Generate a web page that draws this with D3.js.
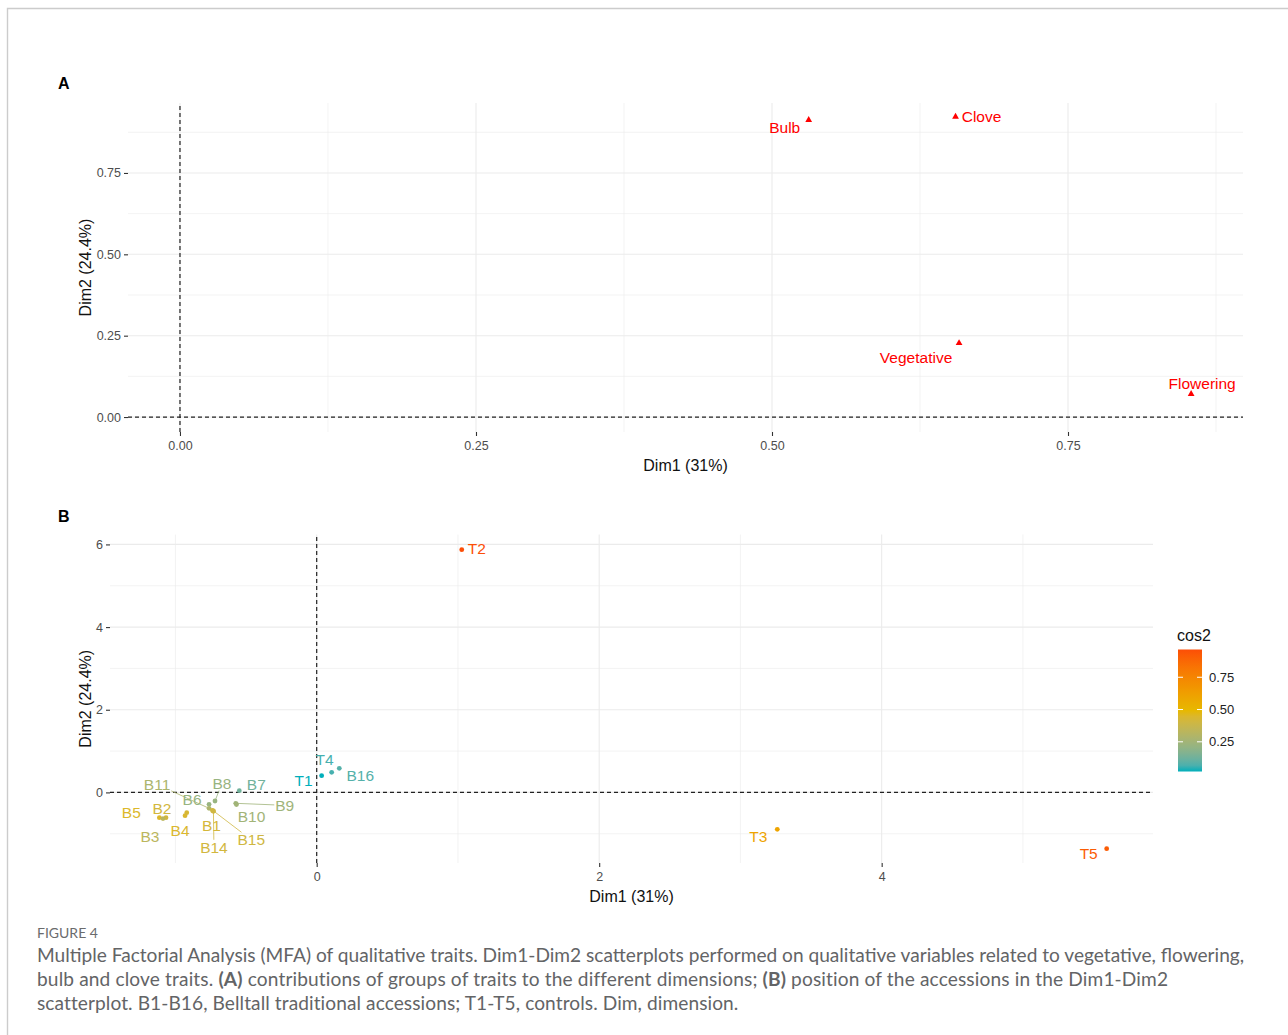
<!DOCTYPE html>
<html>
<head>
<meta charset="utf-8">
<script src="https://cdn.jsdelivr.net/npm/d3@7"></script>
<style>
  body { margin: 0; background: #fff; }
  svg { display: block; }
</style>
</head>
<body>
<svg id="fig" width="1288" height="1035"></svg>
<script>
// ---- Panel A: groups of traits (Dim1 / Dim2 coordinates) ----
const groupNames = ["Bulb", "Clove", "Vegetative", "Flowering"];
const groupDim1 = [0.531, 0.655, 0.658, 0.854];
const groupDim2 = [0.913, 0.923, 0.227, 0.071];

// ---- Panel B: accessions (Dim1 / Dim2 coordinates and cos2) ----
const accNames = ["T2", "T3", "T5", "T1", "T4", "B16", "B7", "B9", "B10", "B8",
                  "B6", "B11", "B1", "B14", "B15", "B4", "B12", "B5", "B2", "B3"];
const accDim1 = [1.027, 3.261, 5.593, 0.035, 0.106, 0.160, -0.548, -0.573, -0.568, -0.720,
                 -0.762, -0.762, -0.738, -0.731, -0.732, -0.932, -0.920, -1.114, -1.067, -1.088];
const accDim2 = [5.872, -0.893, -1.362, 0.404, 0.486, 0.583, 0.041, -0.264, -0.293, -0.208,
                 -0.288, -0.385, -0.438, -0.457, -0.445, -0.564, -0.491, -0.612, -0.612, -0.632];
const accCos2 = [0.965, 0.60, 0.92, 0.02, 0.06, 0.08, 0.13, 0.24, 0.25, 0.22,
                 0.22, 0.28, 0.42, 0.41, 0.40, 0.44, 0.43, 0.45, 0.41, 0.33];

// ---- Tick values ----
const ticksAx = [0, 0.25, 0.5, 0.75];
const ticksAy = [0, 0.25, 0.5, 0.75];
const ticksBx = [0, 2, 4];
const ticksBy = [0, 2, 4, 6];
const legendTicks = [0.25, 0.5, 0.75];
const gradientColours = ["#00AFBB", "#E7B800", "#FC4E07"];

// Label placement (pixel offsets of label centre from its point; true = leader segment)
const labelNudgeA = {
  Bulb: [-24, 8], Clove: [26, 0], Vegetative: [-43, 14], Flowering: [11, -10]
};
const labelNudgeB = {
  T2: [15, -1], T3: [-19, 7], T5: [-18, 5], T1: [-18, 5], T4: [-7, -13], B16: [21, 7],
  B7: [17, -6], B9: [49, 2, true], B10: [15, 12], B8: [7, -18, true], B6: [-17, -5],
  B11: [-52, -24, true], B1: [-1, 14.5], B14: [0.5, 36, true], B15: [38, 29, true],
  B4: [-5, 15], B5: [-28, -5], B2: [-4, -9], B3: [-13, 18]
};

const FONT = "'Liberation Sans', Arial, sans-serif";
const svg = d3.select("#fig");

// page frame
svg.append("path").attr("d", "M7.5,1035V8.5H1288")
  .attr("fill", "none").attr("stroke", "#cccccc").attr("stroke-width", 1.4);

function gridAndAxes(g, x, y, o) {
  const [x0, x1] = x.range(), [y0, y1] = y.range();
  // minor + major grid
  o.gx.forEach(v => g.append("line").attr("x1", x(v)).attr("x2", x(v)).attr("y1", y0).attr("y2", y1)
    .attr("stroke", "#ebebeb").attr("stroke-width", o.majX.includes(v) ? 1.1 : 0.6));
  o.gy.forEach(v => g.append("line").attr("y1", y(v)).attr("y2", y(v)).attr("x1", x0).attr("x2", x1)
    .attr("stroke", "#ebebeb").attr("stroke-width", o.majY.includes(v) ? 1.1 : 0.6));

  const ax = g.append("g").attr("transform", `translate(0,${y0})`)
    .call(d3.axisBottom(x).tickValues(o.majX).tickFormat(o.fmt).tickSize(4).tickPadding(5));
  const ay = g.append("g").attr("transform", `translate(${x0},0)`)
    .call(d3.axisLeft(y).tickValues(o.majY).tickFormat(o.fmt).tickSize(4).tickPadding(3));
  [ax, ay].forEach(a => {
    a.select(".domain").remove();
    a.selectAll(".tick line").attr("stroke", "#333").attr("stroke-width", 1.1);
    a.selectAll(".tick text").attr("fill", "#4d4d4d").style("font", `12.5px ${FONT}`);
  });

  // reference lines at zero
  g.append("line").attr("x1", x(0)).attr("x2", x(0)).attr("y1", y0).attr("y2", y1)
    .attr("stroke", "#222").attr("stroke-width", 1.2).attr("stroke-dasharray", "4,3");
  g.append("line").attr("y1", y(0)).attr("y2", y(0)).attr("x1", x0).attr("x2", x1)
    .attr("stroke", "#222").attr("stroke-width", 1.2).attr("stroke-dasharray", "4,3");

  g.append("text").attr("x", (x0 + x1) / 2).attr("y", o.xTitleY).attr("text-anchor", "middle")
    .attr("dominant-baseline", "central").style("font", `16px ${FONT}`).attr("fill", "#111")
    .text("Dim1 (31%)");
  g.append("text").attr("transform", `translate(85,${(y0 + y1) / 2}) rotate(-90)`)
    .attr("text-anchor", "middle").attr("dominant-baseline", "central")
    .style("font", `16px ${FONT}`).attr("fill", "#111").text("Dim2 (24.4%)");
  g.append("text").attr("x", 58).attr("y", o.tagY).attr("dominant-baseline", "central")
    .style("font", `bold 16px ${FONT}`).attr("fill", "#000").text(o.tag);
}

function placeLabel(g, px, py, name, nudge, colour, size) {
  const cx = px + nudge[0], cy = py + nudge[1];
  const t = g.append("text").attr("x", cx).attr("y", cy).attr("text-anchor", "middle")
    .attr("dominant-baseline", "central").style("font", `${size}px ${FONT}`)
    .attr("fill", colour).text(name);
  if (nudge[2]) {
    const bb = t.node().getBBox();
    const hw = bb.width / 2 + 1, hh = bb.height / 2 - 1;
    const dx = px - cx, dy = py - cy;
    const s = Math.min(dx ? hw / Math.abs(dx) : Infinity, dy ? hh / Math.abs(dy) : Infinity);
    if (s < 1) {
      g.insert("line", "text").attr("x1", cx + dx * s).attr("y1", cy + dy * s)
        .attr("x2", px).attr("y2", py).attr("stroke", colour).attr("stroke-width", 0.8);
    }
  }
}

// ---------------- Panel A ----------------
const xA = d3.scaleLinear().domain([-0.0439, 0.8978]).range([128, 1243]);
const yA = d3.scaleLinear().domain([-0.046, 0.965]).range([432, 103]);
const gA = svg.append("g");
gridAndAxes(gA, xA, yA, {
  gx: d3.range(0, 0.9, 0.125), gy: d3.range(0, 0.95, 0.125),
  majX: ticksAx, majY: ticksAy, fmt: d3.format(".2f"),
  xTitleY: 465, tagY: 83, tag: "A"
});
const marksA = gA.append("g");
groupNames.forEach((n, i) => {
  const px = xA(groupDim1[i]), py = yA(groupDim2[i]);
  marksA.append("path").attr("d", d3.symbol(d3.symbolTriangle, 20)())
    .attr("transform", `translate(${px},${py})`).attr("fill", "#ff0000");
  placeLabel(marksA, px, py, n, labelNudgeA[n], "#ff0000", 15.5);
});

// ---------------- Panel B ----------------
const xB = d3.scaleLinear().domain([-1.4634, 5.921]).range([110, 1153]);
const yB = d3.scaleLinear().domain([-1.708, 6.240]).range([863, 534.5]);
const gB = svg.append("g");
gridAndAxes(gB, xB, yB, {
  gx: d3.range(-1, 6, 1), gy: d3.range(-1, 7, 1),
  majX: ticksBx, majY: ticksBy, fmt: d3.format("d"),
  xTitleY: 896, tagY: 516, tag: "B"
});

const cExt = d3.extent(accCos2);
const colour = d3.scaleLinear()
  .domain([cExt[0], (cExt[0] + cExt[1]) / 2, cExt[1]])
  .range(gradientColours).interpolate(d3.interpolateLab);

const marksB = gB.append("g");
accNames.forEach((n, i) => {
  const px = xB(accDim1[i]), py = yB(accDim2[i]);
  marksB.append("circle").attr("cx", px).attr("cy", py).attr("r", 2.4).attr("fill", colour(accCos2[i]));
});
accNames.forEach((n, i) => {
  if (!labelNudgeB[n]) return;
  const px = xB(accDim1[i]), py = yB(accDim2[i]);
  placeLabel(marksB, px, py, n, labelNudgeB[n], colour(accCos2[i]), 15.5);
});

// ---------------- cos2 legend ----------------
const lg = svg.append("g");
const ly = d3.scaleLinear().domain(cExt).range([771.5, 649.5]);
const grad = svg.append("defs").append("linearGradient").attr("id", "cosGrad")
  .attr("x1", 0).attr("x2", 0).attr("y1", 1).attr("y2", 0);
d3.range(0, 1.0001, 0.05).forEach(t => {
  grad.append("stop").attr("offset", t)
    .attr("stop-color", colour(cExt[0] + t * (cExt[1] - cExt[0])));
});
lg.append("rect").attr("x", 1178).attr("y", ly(cExt[1])).attr("width", 24)
  .attr("height", ly(cExt[0]) - ly(cExt[1])).attr("fill", "url(#cosGrad)");
legendTicks.forEach(v => {
  lg.append("line").attr("x1", 1178).attr("x2", 1183).attr("y1", ly(v)).attr("y2", ly(v))
    .attr("stroke", "#fff").attr("stroke-width", 1);
  lg.append("line").attr("x1", 1197).attr("x2", 1202).attr("y1", ly(v)).attr("y2", ly(v))
    .attr("stroke", "#fff").attr("stroke-width", 1);
  lg.append("text").attr("x", 1209).attr("y", ly(v)).attr("dominant-baseline", "central")
    .style("font", `13px ${FONT}`).attr("fill", "#222").text(d3.format(".2f")(v));
});
lg.append("text").attr("x", 1177).attr("y", 635).attr("dominant-baseline", "central")
  .style("font", `16px ${FONT}`).attr("fill", "#111").text("cos2");

// ---------------- Caption ----------------
const CAP = "Lato, 'Open Sans', sans-serif";
svg.append("text").attr("x", 37).attr("y", 938).style("font", `14px ${CAP}`)
  .attr("fill", "#6a6b6d").text("FIGURE 4");
const capLines = [
  [["Multiple Factorial Analysis (MFA) of qualitative traits. Dim1-Dim2 scatterplots performed on qualitative variables related to vegetative, flowering,", false]],
  [["bulb and clove traits. ", false], ["(A)", true], [" contributions of groups of traits to the different dimensions; ", false],
   ["(B)", true], [" position of the accessions in the Dim1-Dim2", false]],
  [["scatterplot. B1-B16, Belltall traditional accessions; T1-T5, controls. Dim, dimension.", false]]
];
const capWidths = [1208, 1131, 701];   // text column widths of each caption line
const capG = svg.append("g");
const capTexts = capLines.map((parts, k) => {
  const t = capG.append("text").attr("x", 37).attr("y", 962 + k * 24)
    .style("font-family", CAP).style("font-size", "17px").attr("fill", "#636466");
  parts.forEach(([s, b]) => t.append("tspan").attr("font-weight", b ? "bold" : null).text(s));
  return t;
});
const w0 = capTexts[0].node().getComputedTextLength();
const fs = 17 * capWidths[0] / w0;
capTexts.forEach((t, k) => {
  t.style("font-size", fs + "px");
  const n = capLines[k].reduce((a, p) => a + p[0].length, 0);
  const extra = capWidths[k] - t.node().getComputedTextLength();
  if (k > 0) t.style("letter-spacing", (extra / (n - 1)) + "px");
});
</script>
</body>
</html>
